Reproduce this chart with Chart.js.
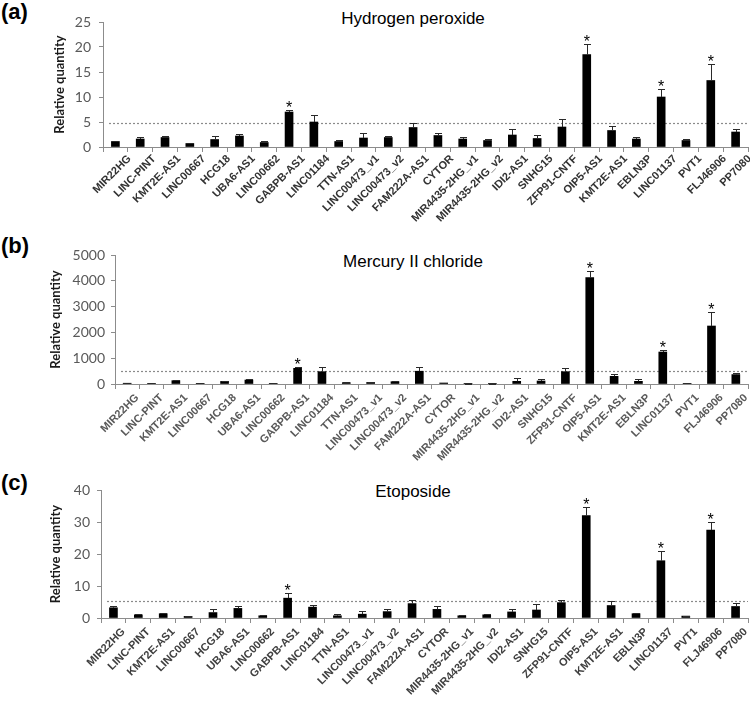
<!DOCTYPE html>
<html>
<head>
<meta charset="utf-8">
<script src="https://cdn.jsdelivr.net/npm/chart.js@4.4.1/dist/chart.umd.min.js"></script>
<style>
  html,body{margin:0;padding:0;background:#fff;}
  body{width:750px;height:702px;position:relative;overflow:hidden;}
  canvas{position:absolute;left:0;}
  .lab{position:absolute;left:1px;font:bold 22px "Liberation Sans",Arial,sans-serif;line-height:22px;color:#000;}
  .ttl{position:absolute;left:413px;transform:translateX(-50%);font:17px "Liberation Sans",Arial,sans-serif;line-height:17px;color:#000;white-space:nowrap;}
</style>
</head>
<body>
<div class="lab" style="top:1px">(a)</div>
<div class="lab" style="top:235px">(b)</div>
<div class="lab" style="top:472px">(c)</div>
<div class="ttl" style="top:10px">Hydrogen peroxide</div>
<div class="ttl" style="top:253px">Mercury II chloride</div>
<div class="ttl" style="top:483px">Etoposide</div>
<canvas id="ca" width="750" height="240" style="top:0px"></canvas>
<canvas id="cb" width="750" height="240" style="top:240px"></canvas>
<canvas id="cc" width="750" height="232" style="top:470px"></canvas>
<script>
// ---------- DATA ----------
const categories = ["MIR22HG","LINC-PINT","KMT2E-AS1","LINC00667","HCG18","UBA6-AS1","LINC00662","GABPB-AS1","LINC01184","TTN-AS1","LINC00473_v1","LINC00473_v2","FAM222A-AS1","CYTOR","MIR4435-2HG_v1","MIR4435-2HG_v2","IDI2-AS1","SNHG15","ZFP91-CNTF","OIP5-AS1","KMT2E-AS1","EBLN3P","LINC01137","PVT1","FLJ46906","PP7080"];

const h2o2Values = [1.1,1.6,1.9,0.7,1.5,2.2,0.9,7.0,5.0,1.1,1.8,1.9,3.9,2.3,1.6,1.3,2.4,1.7,4.0,18.5,3.3,1.6,10.0,1.3,13.3,3.0];
const h2o2Errors = [0.2,0.4,0.4,0.2,0.8,0.5,0.3,0.5,1.5,0.4,1.1,0.3,0.9,0.6,0.4,0.4,1.3,0.8,1.7,2.1,1.0,0.5,1.6,0.3,3.4,0.7];
const h2o2Stars = [7,19,22,24];
const h2o2Threshold = 4.9;
const h2o2Ticks = [0,5,10,15,20,25];

const hgValues = [30,5,130,3,100,155,5,607,478,52,60,90,495,39,13,13,103,116,478,4120,297,103,1240,8,2248,365];
const hgErrors = [20,0,25,0,30,25,0,63,192,25,25,26,180,10,5,5,142,64,142,270,91,77,78,0,542,55];
const hgStars = [7,19,22,24];
const hgThreshold = 500;
const hgTicks = [0,1000,2000,3000,4000,5000];

const etoValues = [3.2,1.0,1.35,0.5,1.7,3.0,0.7,6.2,3.4,0.7,1.2,2.0,4.5,2.7,0.7,1.0,1.9,2.5,4.8,32.0,3.9,1.35,17.9,0.6,27.5,3.6];
const etoErrors = [0.7,0.1,0.2,0.1,1.2,0.8,0.3,1.6,0.7,0.4,0.9,0.7,1.1,1.2,0.1,0.1,1.0,1.8,0.8,2.6,1.3,0.1,3.1,0.1,2.5,1.1];
const etoStars = [7,19,22,24];
const etoThreshold = 5.3;
const etoTicks = [0,10,20,30,40];

// ---------- PLUGIN ----------
const errPlugin = {
  id: 'errs',
  beforeDatasetsDraw(chart, args, opts) {
    const {ctx, scales:{y}, chartArea} = chart;
    const ty = Math.round(y.getPixelForValue(opts.threshold)) + 0.5;
    ctx.save();
    ctx.strokeStyle = '#8a8a8a';
    ctx.lineWidth = 1.2;
    ctx.setLineDash([2,2]);
    ctx.beginPath();
    ctx.moveTo(chartArea.left + 6, ty);
    ctx.lineTo(chartArea.right, ty);
    ctx.stroke();
    ctx.restore();
  },
  afterDatasetsDraw(chart, args, opts) {
    const {ctx, scales:{x, y}} = chart;
    const meta = chart.getDatasetMeta(0);
    const data = chart.data.datasets[0].data;
    ctx.save();
    ctx.strokeStyle = '#2a2a2a';
    ctx.lineWidth = 1;
    meta.data.forEach((bar, i) => {
      const e = opts.errors[i];
      if (!e) return;
      const yTop = y.getPixelForValue(data[i] + e);
      const yBar = y.getPixelForValue(data[i]);
      const xc = Math.round(bar.x) + 0.5;
      const yt = Math.round(yTop) + 0.5;
      ctx.beginPath();
      ctx.moveTo(xc, yBar);
      ctx.lineTo(xc, yt);
      ctx.moveTo(xc - 3.5, yt);
      ctx.lineTo(xc + 3.5, yt);
      ctx.stroke();
    });
    // significance stars
    ctx.fillStyle = '#000';
    ctx.font = '16px "Liberation Sans", Arial, sans-serif';
    ctx.textAlign = 'center';
    ctx.textBaseline = 'alphabetic';
    opts.stars.forEach(i => {
      const bar = meta.data[i];
      const yTop = y.getPixelForValue(data[i] + (opts.errors[i] || 0));
      ctx.fillText('*', bar.x, yTop + 3);
    });
    // rotated category labels, positioned from the category scale
    ctx.fillStyle = opts.labelColor;
    ctx.font = 'bold 11px "Liberation Sans", Arial, sans-serif';
    ctx.textAlign = 'right';
    ctx.textBaseline = 'middle';
    chart.data.labels.forEach((lab, i) => {
      const px = x.getPixelForValue(i) + opts.labelDx;
      const py = x.top + opts.labelDy;
      ctx.save();
      ctx.translate(px, py);
      ctx.rotate(-Math.PI / 4);
      ctx.fillText(lab, 0, 0);
      ctx.restore();
    });
    ctx.restore();
  }
};

function makePanel(id, values, errors, stars, threshold, ticks, L) {
  const tickSet = ticks;
  new Chart(document.getElementById(id), {
    type: 'bar',
    data: {
      labels: categories,
      datasets: [{
        data: values,
        backgroundColor: '#000',
        borderWidth: 0,
        barThickness: 8,
        categoryPercentage: 1,
        barPercentage: 0.35
      }]
    },
    plugins: [errPlugin],
    options: {
      responsive: false,
      animation: false,
      events: [],
      layout: { padding: { top: L.top, right: L.right, left: 0, bottom: 0 } },
      plugins: {
        legend: { display: false },
        tooltip: { enabled: false },
        title: { display: false },
        errs: { errors: errors, stars: stars, threshold: threshold,
                labelColor: L.labelColor, labelDx: L.labelDx, labelDy: L.labelDy }
      },
      scales: {
        x: {
          offset: true,
          grid: { display: true, offset: true, drawOnChartArea: false, drawTicks: true, tickLength: 5, color: '#8c8c8c' },
          border: { display: true, color: '#8c8c8c', width: 1 },
          ticks: { display: false },
          afterFit(scale) { scale.height = L.xh; scale.paddingLeft = 0; scale.paddingRight = 0; }
        },
        y: {
          min: tickSet[0], max: tickSet[tickSet.length - 1],
          afterBuildTicks(scale) { scale.ticks = tickSet.map(v => ({ value: v })); },
          grid: { display: true, drawOnChartArea: false, drawTicks: true, tickLength: 4, color: '#8c8c8c' },
          border: { display: true, color: '#8c8c8c', width: 1 },
          ticks: {
            color: '#595959',
            font: { family: 'Lato, "Open Sans", sans-serif', size: 14 },
            padding: L.tickPad,
            callback: v => String(v)
          },
          title: {
            display: true, text: 'Relative quantity', color: '#1a1a1a',
            font: { family: 'Lato, "Open Sans", sans-serif', size: 13, weight: 'bold' },
            padding: { top: L.titleX, bottom: 0 }
          },
          afterFit(scale) { scale.width = L.yw; }
        }
      }
    }
  });
}

makePanel('ca', h2o2Values, h2o2Errors, h2o2Stars, h2o2Threshold, h2o2Ticks,
  { top: 22, right: 2, xh: 93, yw: 103, tickPad: 8, titleX: 52, labelColor: '#333333', labelDx: 14, labelDy: 10 });
makePanel('cb', hgValues, hgErrors, hgStars, hgThreshold, hgTicks,
  { top: 15, right: 2, xh: 96, yw: 115, tickPad: 6, titleX: 48, labelColor: '#595959', labelDx: 10, labelDy: 12 });
makePanel('cc', etoValues, etoErrors, etoStars, etoThreshold, etoTicks,
  { top: 20, right: 2, xh: 84, yw: 101, tickPad: 7, titleX: 48, labelColor: '#404040', labelDx: 10, labelDy: 12 });
</script>
</body>
</html>
